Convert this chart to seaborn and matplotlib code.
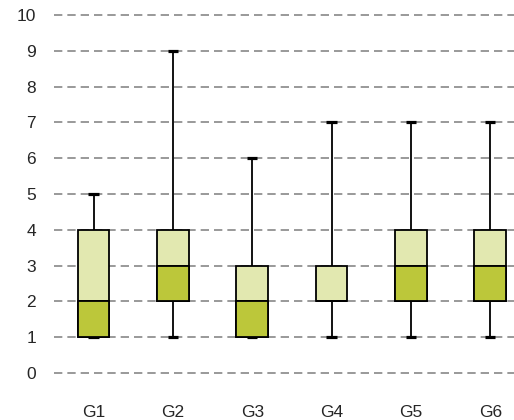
import matplotlib
matplotlib.use("Agg")
import matplotlib.pyplot as plt
import numpy as np
import pandas as pd
import seaborn as sns

groups = ["G1", "G2", "G3", "G4", "G5", "G6"]
mins = [1, 1, 1, 1, 1, 1]
q1s = [1, 2, 1, 2, 2, 2]
medians = [2, 3, 2, 2, 3, 3]
q3s = [4, 4, 3, 3, 4, 4]
maxs = [5, 9, 6, 7, 7, 7]

light = "#e2e8b0"
dark = "#bcc73a"

# five points per group give exactly the quartiles above
rows = []
for g, a, b, c, d, e in zip(groups, mins, q1s, medians, q3s, maxs):
    for v in (a, b, c, d, e):
        rows.append({"group": g, "value": v})
df = pd.DataFrame(rows)

sns.set_style("white")
plt.rcParams["font.family"] = ["Liberation Sans", "DejaVu Sans"]

fig = plt.figure(figsize=(5.14, 4.2), dpi=100)
ax = fig.add_axes([0.105, 0.095, 0.895, 0.886])

sns.boxplot(data=df, x="group", y="value", order=groups, whis=(0, 100),
            width=0.4, color=light, saturation=1, linecolor="black",
            linewidth=1.3, fliersize=0, ax=ax, zorder=3)

# shorter, heavier whisker caps
for cont in ax.containers:
    if hasattr(cont, "caps"):
        for cap in cont.caps:
            xs = cap.get_xdata()
            mid = (xs[0] + xs[1]) / 2
            cap.set_xdata([mid - 0.065, mid + 0.065])
            cap.set_linewidth(2.3)
            cap.set_solid_capstyle("butt")

# darker lower half of each box (Q1 to median)
lower = np.array(medians) - np.array(q1s)
ax.bar(np.arange(len(groups)), lower, bottom=q1s, width=0.4, color=dark,
       edgecolor="black", linewidth=1.3, zorder=4)

ax.set_ylim(-0.2, 10.2)
ax.set_xlim(-0.5, 5.3)
ax.set_yticks(range(0, 11))
ax.yaxis.grid(True, linestyle=(0, (5, 3)), color="#888888", linewidth=1.2)
ax.set_axisbelow(True)
for s in ax.spines.values():
    s.set_visible(False)
ax.set_xlabel("")
ax.set_ylabel("")
ax.tick_params(axis="x", length=0, pad=18, labelsize=12.5)
ax.tick_params(axis="y", length=0, pad=13, labelsize=12.5)

fig.savefig("out.png", dpi=100)
